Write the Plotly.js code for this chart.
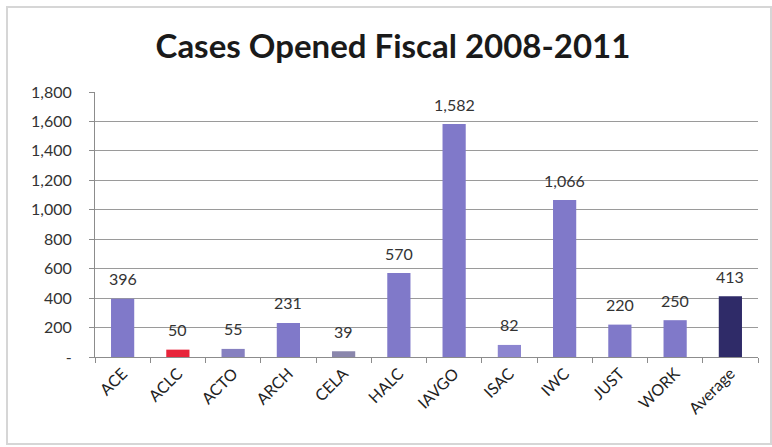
<!DOCTYPE html>
<html>
<head>
<meta charset="utf-8">
<script src="https://cdn.plot.ly/plotly-3.0.1.min.js"></script>
<style>
html,body{margin:0;padding:0;background:#fff;}
#wrap{position:relative;width:772px;height:447px;}
#chart{position:absolute;left:0;top:0;width:772px;height:447px;}
#frame{position:absolute;left:6px;top:6px;width:762px;height:435px;border:2px solid #d6d6d6;pointer-events:none;}
</style>
</head>
<body>
<div id="wrap"><div id="chart"></div><div id="frame"></div></div>
<script>
var categories = ["ACE","ACLC","ACTO","ARCH","CELA","HALC","IAVGO","ISAC","IWC","JUST","WORK","Average"];
var cases = [396, 50, 55, 231, 39, 570, 1582, 82, 1066, 220, 250, 413];
var barColors = ["#8079c9","#e8243a","#8680c0","#8079c9","#8a86ac","#8079c9","#8079c9","#8c85d0","#8079c9","#8079c9","#8079c9","#2f2b68"];
var yTickVals = [0,200,400,600,800,1000,1200,1400,1600,1800];
var yTickText = ["-","200","400","600","800","1,000","1,200","1,400","1,600","1,800"];

var fontFam = "Lato, 'Open Sans', sans-serif";

var trace = {
  type: "bar",
  x: categories,
  y: cases,
  marker: {color: barColors, line: {width: 0}},
  hoverinfo: "x+y"
};

var annotations = categories.map(function(c, i){
  return {
    x: c, y: cases[i], xref: "x", yref: "y",
    text: cases[i].toLocaleString("en-US"),
    showarrow: false, yanchor: "middle", yshift: 20,
    font: {family: fontFam, size: 16, color: "#333333"}
  };
});

var layout = {
  width: 772, height: 447,
  margin: {l: 95, r: 14, t: 92, b: 90},
  paper_bgcolor: "rgba(0,0,0,0)",
  plot_bgcolor: "#ffffff",
  title: {text: "<b>Cases Opened Fiscal 2008-2011</b>", x: 0.509, xanchor: "center", y: 0.895, yanchor: "middle",
          font: {family: fontFam, size: 33, color: "#1a1a1a"}},
  bargap: 0.58,
  showlegend: false,
  xaxis: {
    type: "category",
    tickangle: -45,
    tickson: "boundaries",
    ticks: "outside", ticklen: 5, tickcolor: "#8c8c8c",
    showline: true, linecolor: "#8c8c8c", linewidth: 1,
    showgrid: false,
    tickfont: {family: fontFam, size: 16, color: "#222222"}
  },
  yaxis: {
    range: [0, 1800],
    tickvals: yTickVals, ticktext: yTickText,
    showgrid: true, gridcolor: "#9a9a9a", gridwidth: 1,
    showline: true, linecolor: "#8c8c8c", linewidth: 1,
    ticks: "outside", ticklen: 5, tickcolor: "#8c8c8c",
    zeroline: false,
    ticklabelstandoff: 14,
    tickfont: {family: fontFam, size: 16, color: "#333333"}
  },
  annotations: annotations
};

Plotly.newPlot("chart", [trace], layout, {displayModeBar: false, staticPlot: true});
</script>
</body>
</html>
